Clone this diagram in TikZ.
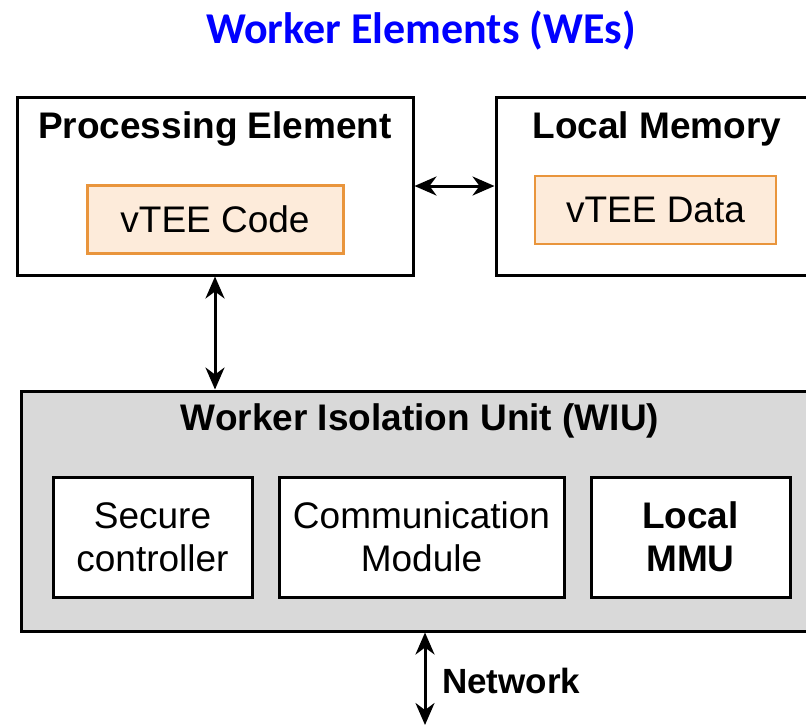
\documentclass[tikz,border=0pt]{standalone}
\usepackage{fontspec}
\setmainfont{Liberation Sans}
\newfontfamily\titlefont{Carlito}
\usetikzlibrary{arrows.meta}
\definecolor{orgline}{HTML}{E9953C}
\definecolor{orgfill}{HTML}{FDEBDA}
\definecolor{wiufill}{HTML}{D9D9D9}
\definecolor{titleblue}{HTML}{0000FF}
\begin{document}
\begin{tikzpicture}[x=1pt,y=-1pt,
  box/.style={draw=black, line width=3pt, inner sep=0pt, fill=white},
  codebox/.style={draw=orgline, fill=orgfill, line width=3pt, inner sep=0pt},
  databox/.style={draw=orgline, fill=orgfill, line width=1.5pt, inner sep=0pt},
  big/.style={font=\fontsize{37}{43}\selectfont, align=center, inner sep=0pt},
  bigb/.style={font=\fontsize{37}{43}\selectfont\bfseries, align=center, inner sep=0pt},
  dbl/.style={line width=3pt, {Stealth[length=22pt,width=19pt,inset=7pt]}-{Stealth[length=22pt,width=19pt,inset=7pt]}}
]
\useasboundingbox (0,0) rectangle (806,726);
\clip (0,0) rectangle (806,726);

% title
\node[font=\titlefont\fontsize{44}{50}\selectfont\bfseries, text=titleblue, inner sep=0pt] (title) at (421,30) {Worker Elements (WEs)};

% processing element
\node[box, minimum width=396pt, minimum height=178pt] (pe) at (215,186) {};
\node[bigb] (petitle) at (215,129) {Processing Element};
\node[codebox, minimum width=256pt, minimum height=68pt] (code) at (215,219) {};
\node[big] (codetext) at (code.center) {vTEE Code};

% local memory
\node[box, minimum width=322pt, minimum height=178pt] (lm) at (657,186) {};
\node[bigb] (lmtitle) at (657,129) {Local Memory};
\node[databox, minimum width=241pt, minimum height=68pt] (data) at (655.5,210) {};
\node[big] (datatext) at (data.center) {vTEE Data};

% WIU
\node[box, fill=wiufill, minimum width=798pt, minimum height=240pt] (wiu) at (420,511) {};
\node[bigb] (wiutitle) at (420,421) {Worker Isolation Unit (WIU)};
\node[box, minimum width=199pt, minimum height=120pt] (sc) at (152.5,537) {};
\node[big] (sctext) at (sc.center) {Secure\\controller};
\node[box, minimum width=285pt, minimum height=120pt] (cm) at (421.5,537) {};
\node[big] (cmtext) at (cm.center) {Communication\\Module};
\node[box, minimum width=199pt, minimum height=120pt] (mmu) at (690.5,537) {};
\node[bigb] (mmutext) at (mmu.center) {Local\\MMU};

% connectors
\draw[dbl] (pe.east) -- (lm.west);
\draw[dbl] (pe.south) -- (pe.south |- wiu.north);
\coordinate (net) at (425,725);
\draw[dbl] (wiu.south -| net) -- (net);
\node[font=\fontsize{35}{40}\selectfont\bfseries, anchor=west, inner sep=0pt] (netlabel) at (442,681) {Network};
\end{tikzpicture}
\end{document}
